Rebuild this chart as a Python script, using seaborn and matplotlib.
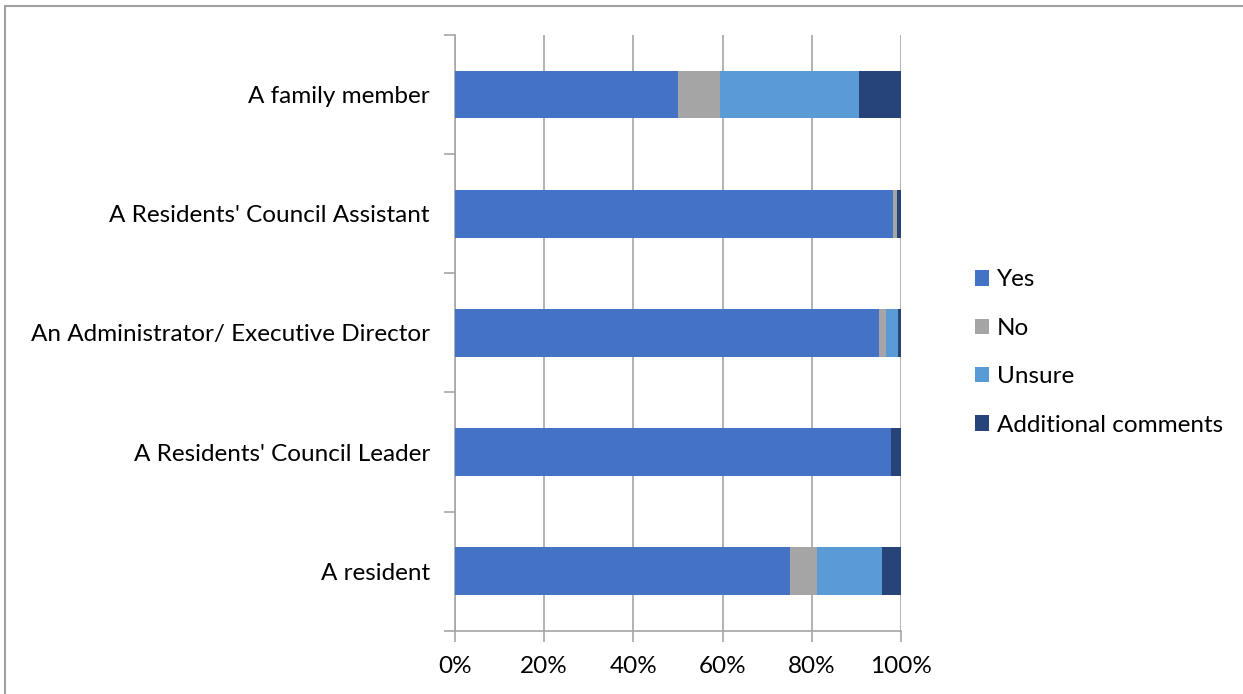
import matplotlib
matplotlib.use("Agg")
import matplotlib.pyplot as plt
from matplotlib.lines import Line2D
from matplotlib.patches import Patch
import numpy as np
import pandas as pd
import seaborn as sns

# Respondent roles (top to bottom) and answer shares in percent
roles = [
    "A family member",
    "A Residents' Council Assistant",
    "An Administrator/ Executive Director",
    "A Residents' Council Leader",
    "A resident",
]
yes = [50.0, 98.2, 95.0, 97.8, 75.1]
no = [9.4, 1.0, 1.6, 0.0, 6.0]
unsure = [31.3, 0.0, 2.7, 0.0, 14.6]
additional = [9.3, 0.8, 0.7, 2.2, 4.3]

series_names = ["Yes", "No", "Unsure", "Additional comments"]
series_colors = ["#4472C4", "#A5A5A5", "#5B9BD5", "#264478"]

sns.set_theme(style="white")
plt.rcParams["font.family"] = ["Lato", "DejaVu Sans"]

df = pd.DataFrame({"role": roles, "Yes": yes, "No": no,
                   "Unsure": unsure, "Additional comments": additional})
cum = df[series_names].cumsum(axis=1)

fig = plt.figure(figsize=(12.43, 6.94), dpi=100)
ax = fig.add_axes([0.366, 0.091, 0.3588, 0.8586])

# Stacked bars: draw running totals from the outermost segment inward
for name, color in reversed(list(zip(series_names, series_colors))):
    sns.barplot(x=cum[name], y=df["role"], orient="h", color=color,
                width=0.4, ax=ax, saturation=1, linewidth=0, zorder=3)

grid_color = "#A6A6A6"
fs = 17.5
ax.set_xlim(0, 100)
ax.set_ylim(4.5, -0.5)
ax.set_xticks(np.arange(0, 101, 20))
ax.set_xticklabels([f"{v}%" for v in range(0, 101, 20)])
ax.xaxis.grid(True, color=grid_color, linewidth=1.2, zorder=0)
ax.set_axisbelow(True)
ax.set_xlabel("")
ax.set_ylabel("")

# Category boundaries carry the y tick marks; labels sit on bar centres
ax.set_yticks(np.arange(len(roles)))
ax.set_yticklabels(roles)
ax.set_yticks(np.arange(-0.5, len(roles), 1.0), minor=True)
ax.tick_params(axis="y", which="major", length=0, pad=18, labelsize=fs, colors="black")
ax.tick_params(axis="y", which="minor", left=True, length=8, width=1.2, color=grid_color)
ax.tick_params(axis="x", bottom=True, length=8, width=1.2, color=grid_color,
               pad=10, labelsize=fs, colors="black")

for side in ("top", "right"):
    ax.spines[side].set_visible(False)
for side in ("left", "bottom"):
    ax.spines[side].set_color(grid_color)
    ax.spines[side].set_linewidth(1.2)

handles = [Patch(facecolor=c, edgecolor="none", label=n)
           for n, c in zip(series_names, series_colors)]
leg = fig.legend(handles=handles, loc="center left", bbox_to_anchor=(0.7765, 0.492),
                 frameon=False, fontsize=fs, handlelength=0.6, handleheight=0.6,
                 handletextpad=0.3, labelspacing=1.13, borderaxespad=0)
for t in leg.get_texts():
    t.set_color("black")

# Chart-area outline
border = "#A0A0A0"
fig.add_artist(Line2D([0.004, 1.0], [0.9914, 0.9914], color=border, linewidth=1.5,
                      transform=fig.transFigure))
fig.add_artist(Line2D([0.004, 0.004], [0.0, 0.9914], color=border, linewidth=1.5,
                      transform=fig.transFigure))

fig.savefig("out.png", dpi=100, facecolor="white")
